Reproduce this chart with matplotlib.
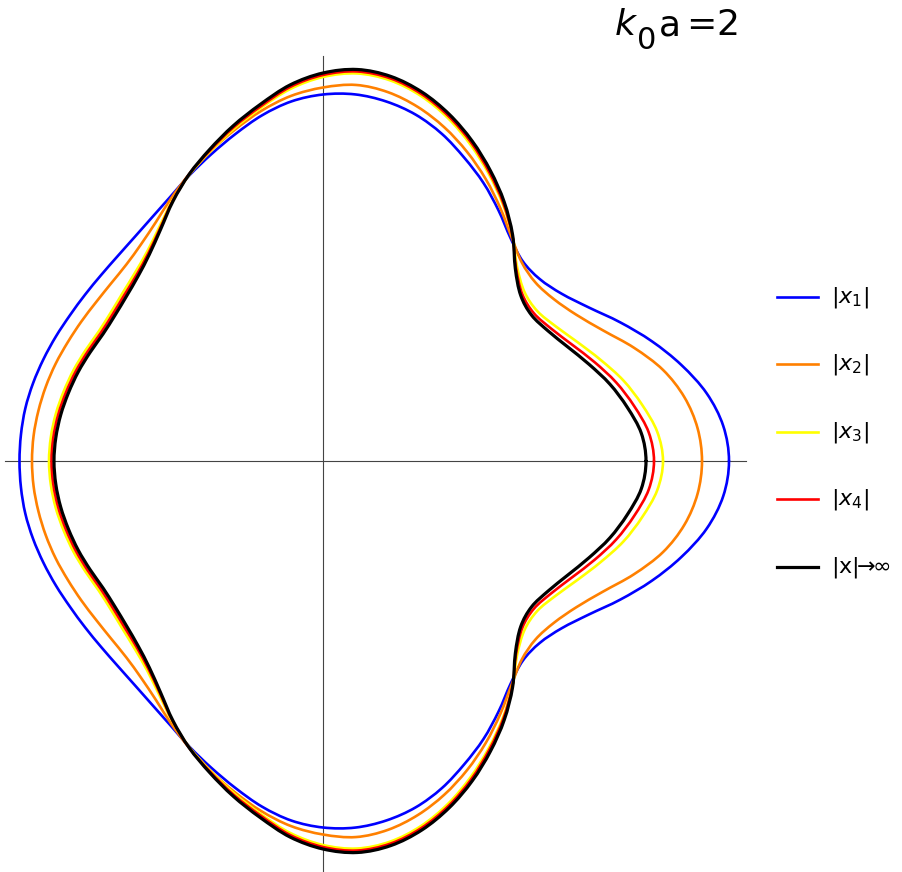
import numpy as np
import matplotlib
matplotlib.use("Agg")
import matplotlib.pyplot as plt
from matplotlib.path import Path
from matplotlib.patches import PathPatch
from matplotlib.lines import Line2D

plt.rcParams["font.family"] = ["DejaVu Sans"]
plt.rcParams["mathtext.fontset"] = "dejavusans"

# Polar angle (degrees) of the upper half; the pattern is mirror-symmetric
theta_deg = np.arange(0, 181, 5)

# Radial pattern |x_n| for increasing order, and the |x| -> infinity limit
r_x1 = [406, 401.8, 389.6, 371, 350, 328, 307, 291.5, 283, 282.5, 291.5, 306, 321,
        334.5, 348, 358.5, 365, 368, 366.5, 361, 351, 338.5, 326.5, 315.5, 305.2, 297.7,
        292.7, 290.1, 289.5, 290.3, 292, 294.7, 297.5, 300.2, 302.3, 303.2, 303.5]
r_x2 = [379, 376, 367, 352, 331, 309, 292.5, 282, 277.5, 281, 293, 309, 325.5,
        341, 355, 366.5, 374.5, 377.5, 373.5, 366.5, 355.5, 342.5, 329.5, 316.5, 303.5, 291.5,
        283, 278, 276.5, 277, 279, 281.5, 284.5, 287, 289, 290.5, 291]
r_x3 = [340, 335.5, 324, 311, 295.5, 281, 269, 261.5, 263, 274.5, 294.5, 313.5, 331.5,
        349, 365, 378, 386.5, 389, 384, 373.5, 358.5, 344, 329.5, 316, 301, 285.5,
        273.5, 266, 261.5, 259, 259, 262, 265.5, 268.5, 271.3, 273.2, 274]
r_x4 = [331, 327, 316, 303.5, 289, 275, 264, 257.5, 260, 273, 294.5, 314.5, 333,
        351, 367, 380, 388.5, 391, 386, 375.5, 360, 345.5, 330.5, 316.5, 300.5, 284,
        271.5, 263.5, 259, 256.5, 256.5, 259.5, 263, 266, 268.8, 270.7, 271.5]
r_inf = [323, 319.5, 309, 297, 283, 270, 260, 254.5, 258, 272, 295, 316, 335,
         353, 369, 382, 390.5, 393, 388, 377.5, 362, 347, 331.5, 316.5, 300, 283,
         270, 261.5, 256.5, 254, 254, 257, 260.5, 263.5, 266.3, 268.2, 269]

series = [
    (r_x1, "#0000ff", 1.9, r"$|x_1|$"),
    (r_x2, "#ff8000", 1.9, r"$|x_2|$"),
    (r_x3, "#ffff00", 1.9, r"$|x_3|$"),
    (r_x4, "#ff0000", 1.9, r"$|x_4|$"),
    (r_inf, "#000000", 2.3, r"$|\mathrm{x}|\!\!\rightarrow\!\!\infty$"),
]


def closed_xy(r):
    th = np.deg2rad(theta_deg)
    r = np.asarray(r, float)
    th_full = np.concatenate([th, -th[-2:0:-1]])
    r_full = np.concatenate([r, r[-2:0:-1]])
    return r_full * np.cos(th_full), r_full * np.sin(th_full)


def smooth_closed_path(x, y):
    pts = np.column_stack([x, y])
    n = len(pts)
    verts = [pts[0]]
    codes = [Path.MOVETO]
    for i in range(n):
        p0, p1 = pts[i - 1], pts[i]
        p2, p3 = pts[(i + 1) % n], pts[(i + 2) % n]
        verts += [p1 + (p2 - p0) / 6.0, p2 - (p3 - p1) / 6.0, p2]
        codes += [Path.CURVE4] * 3
    return Path(verts, codes)


W, H = 903, 872
fig = plt.figure(figsize=(W / 100, H / 100), dpi=100)
ax = fig.add_axes([0, 0, 1, 1])
ax.set_xlim(-323, W - 323)
ax.set_ylim(-(H - 461), 461)
ax.axis("off")

# coordinate axes through the origin
ax.plot([-318, 423], [0, 0], color="#444444", lw=0.8, zorder=1)
ax.plot([0, 0], [-411, 405], color="#444444", lw=0.8, zorder=1)

for k, (r, color, lw, label) in enumerate(series):
    x, y = closed_xy(r)
    ax.add_patch(PathPatch(smooth_closed_path(x, y), fill=False, edgecolor=color,
                           lw=lw, capstyle="round", joinstyle="round", zorder=2 + k))

# legend on the right
for i, (r, color, lw, label) in enumerate(series):
    ypx = 297 + 67.5 * i
    yf = 1 - ypx / H
    fig.add_artist(Line2D([777 / W, 818 / W], [yf, yf], color=color, lw=lw,
                          transform=fig.transFigure))
    fig.text(831 / W, yf, label, fontsize=16, va="center", ha="left")


def px(xp, yp):
    return xp / W, 1 - yp / H


# title k0a=2, glyph by glyph
fig.text(*px(615, 35), "k", fontsize=26, style="italic", va="baseline", ha="left")
fig.text(*px(637, 49), "0", fontsize=22, va="baseline", ha="left")
fig.text(*px(659, 35), "a", fontsize=26, va="baseline", ha="left")
fig.text(*px(686, 35), "=", fontsize=26, va="baseline", ha="left")
fig.text(*px(716, 35), "2", fontsize=26, va="baseline", ha="left")

fig.savefig("out.png", dpi=100)
